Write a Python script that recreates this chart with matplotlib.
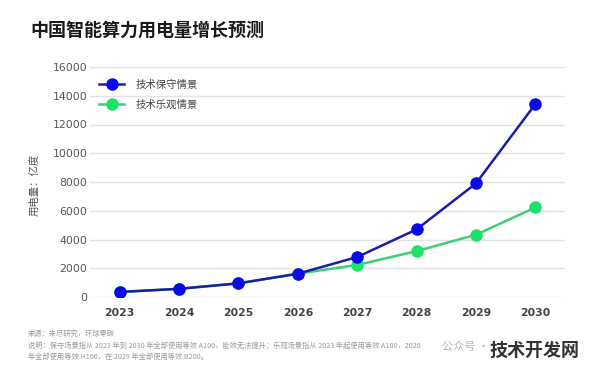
import matplotlib
matplotlib.use("Agg")
import matplotlib.pyplot as plt

plt.rcParams['font.family'] = ['Noto Sans CJK SC', 'DejaVu Sans']

years = ["2023", "2024", "2025", "2026", "2027", "2028", "2029", "2030"]
conservative = [350, 570, 950, 1620, 2780, 4700, 7900, 13420]
optimistic = [350, 570, 950, 1620, 2230, 3190, 4330, 6230]
series_names = ["技术保守情景", "技术乐观情景"]
yticks = [0, 2000, 4000, 6000, 8000, 10000, 12000, 14000, 16000]

title = "中国智能算力用电量增长预测"
ylabel = "用电量：亿度"
source = "来源：未尽研究，环球零碳"
note1 = "说明：保守场景指从 2023 年到 2030 年全部使用等效 A100，能效无法提升；乐观场景指从 2023 年起使用等效 A100，2026"
note2 = "年全部使用等效 H100，在 2029 年全部使用等效 B200。"

fig = plt.figure(figsize=(5.96, 3.68), dpi=100)
ax = fig.add_axes([90/596, 1-297/368, (565-90)/596, (297-67)/368])

x = list(range(len(years)))
ax.plot(x, optimistic, color='#3fcf78', lw=1.8, marker='o', ms=8,
        markerfacecolor='#1ee06a', markeredgecolor='#1ee06a', label=series_names[1], zorder=3)
ax.plot(x, conservative, color='#1c1ca6', lw=1.8, marker='o', ms=8,
        markerfacecolor='#0a0ae8', markeredgecolor='#0a0ae8', label=series_names[0], zorder=4)

ax.set_xlim(-0.5, len(years) - 0.5)
ax.set_ylim(0, 16000)
ax.set_yticks(yticks)
ax.set_yticklabels([str(v) for v in yticks], fontsize=7.8, color='#555555', family='DejaVu Sans')
ax.set_xticks(x)
ax.set_xticklabels(years, fontsize=7.8, color='#444444', fontweight='bold', family='DejaVu Sans')
ax.tick_params(axis='y', length=0, pad=2)
ax.tick_params(axis='x', length=0, pad=8)
ax.grid(axis='y', color='#e3e3e3', lw=1)
ax.set_axisbelow(True)
for s in ax.spines.values():
    s.set_visible(False)

ax.set_ylabel(ylabel, fontsize=7.5, color='#555555')
ax.yaxis.set_label_coords((40-90)/475, 0.487)

handles, labels = ax.get_legend_handles_labels()
leg = ax.legend(handles[::-1], labels[::-1], loc='upper left', bbox_to_anchor=(0.0, 0.985),
                frameon=False, fontsize=7.5, handlelength=2.4, labelspacing=0.95, handletextpad=1.1)
for t in leg.get_texts():
    t.set_color('#444444')

fig.text(30/596, 1-30/368, title, fontsize=13, fontweight='bold', color='#1a1a1a', va='center', ha='left')
fig.text(28/596, 1-334/368, source, fontsize=5.2, color='#9a9a9a', va='center')
fig.text(28/596, 1-346/368, note1, fontsize=5.2, color='#9a9a9a', va='center')
fig.text(28/596, 1-357/368, note2, fontsize=5.2, color='#9a9a9a', va='center')
fig.text(442/596, 1-347/368, "公众号 ·", fontsize=8, color='#b5b5b5', va='center')
fig.text(490/596, 1-350/368, "技术开发网", fontsize=13, fontweight='bold', color='#333333', va='center')

fig.savefig("out.png", dpi=100, facecolor='white')
